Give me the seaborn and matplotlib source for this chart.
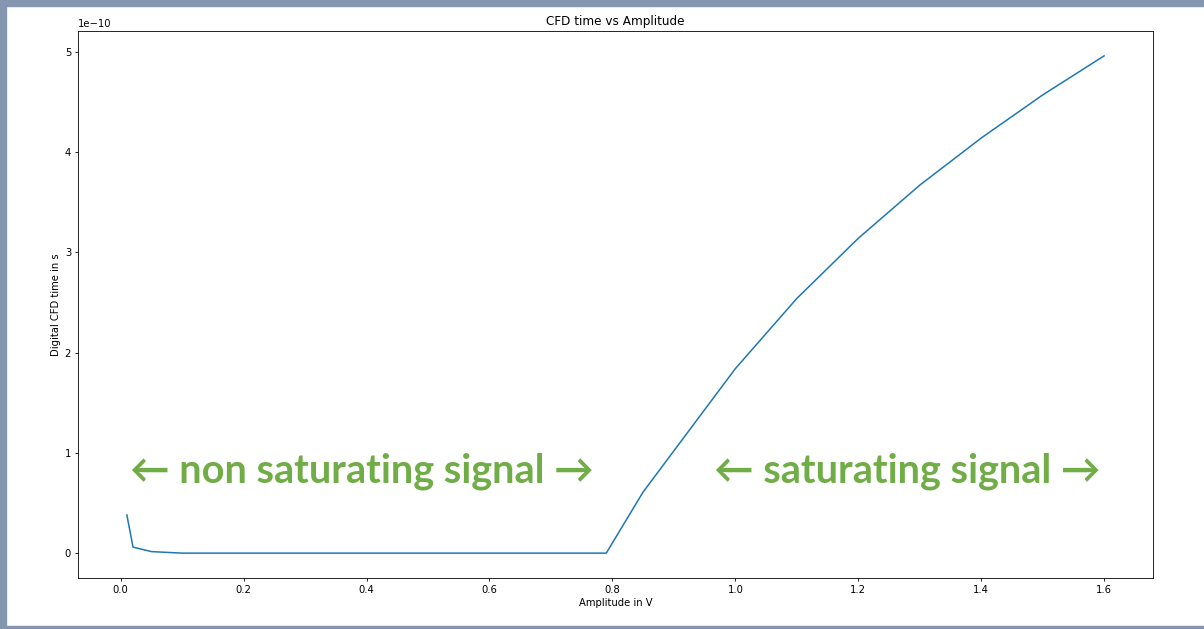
import matplotlib
matplotlib.use("Agg")
import matplotlib.pyplot as plt
import numpy as np
import pandas as pd
import seaborn as sns
from matplotlib.patches import Rectangle

# data
amplitude = [0.01, 0.02, 0.05, 0.1, 0.2, 0.3, 0.4, 0.5, 0.6, 0.7, 0.79,
             0.85, 1.0, 1.1, 1.2, 1.3, 1.4, 1.5, 1.6]
cfd_time = [0.38e-10, 0.06e-10, 0.015e-10, 0.0, 0.0, 0.0, 0.0, 0.0, 0.0, 0.0, 0.0,
            0.61e-10, 1.84e-10, 2.54e-10, 3.14e-10, 3.67e-10, 4.14e-10, 4.57e-10, 4.96e-10]
labels = ["\u2190 non saturating signal \u2192", "\u2190 saturating signal \u2192"]
label_x = [0.393, 1.279]
label_y = 0.82e-10

df = pd.DataFrame({"amp": amplitude, "t": cfd_time})

# the screenshot was scaled down, so everything is ~0.72 of default
plt.rcParams.update({
    "font.size": 7.2,
    "axes.linewidth": 0.6,
    "xtick.major.size": 2.5,
    "ytick.major.size": 2.5,
    "xtick.major.width": 0.6,
    "ytick.major.width": 0.6,
    "xtick.major.pad": 2.5,
    "ytick.major.pad": 2.5,
})

fig = plt.figure(figsize=(12.04, 6.29), dpi=100)
ax = fig.add_axes([0.0648, 0.0811, 0.8928, 0.8696])

sns.lineplot(data=df, x="amp", y="t", ax=ax, color="#1f77b4", linewidth=1.1)
ax.set_title("CFD time vs Amplitude", pad=4.5)
ax.set_xlabel("Amplitude in V", labelpad=2.5)
ax.set_ylabel("Digital CFD time in s", labelpad=2.5)

green = "#70AD47"
for lab, lx in zip(labels, label_x):
    ax.text(lx, label_y, lab, color=green, fontsize=28.5, fontweight="bold",
            ha="center", va="center", family=["Lato", "DejaVu Sans"])

# frame around the screenshot
frame = "#8597B0"
fig.patches.append(Rectangle((0, 0.9905), 1, 0.0095, transform=fig.transFigure,
                             color=frame, zorder=10))
fig.patches.append(Rectangle((0, 0), 0.005, 1, transform=fig.transFigure,
                             color=frame, zorder=10))
fig.patches.append(Rectangle((0, 0), 1, 0.0055, transform=fig.transFigure,
                             color=frame, zorder=10))

plt.savefig("out.png", dpi=100)
plt.close()
